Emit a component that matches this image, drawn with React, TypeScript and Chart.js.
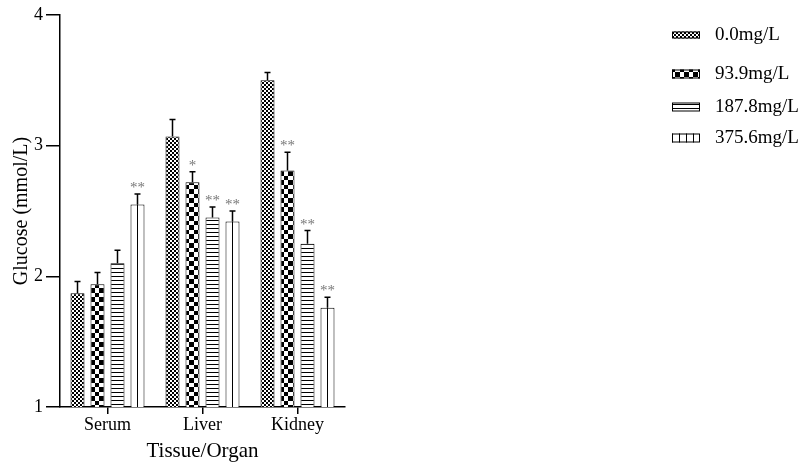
import React, { useEffect, useRef } from "react";
import { Chart, registerables } from "chart.js";

Chart.register(...registerables);

const categories = ["Serum", "Liver", "Kidney"];
const seriesNames = ["0.0mg/L", "93.9mg/L", "187.8mg/L", "375.6mg/L"];
const dose0 = [1.87, 3.07, 3.5];
const dose1 = [1.94, 2.72, 2.81];
const dose2 = [2.1, 2.45, 2.25];
const dose3 = [2.55, 2.42, 1.76];
const err0 = [0.09, 0.13, 0.06];
const err1 = [0.09, 0.08, 0.14];
const err2 = [0.1, 0.08, 0.1];
const err3 = [0.08, 0.08, 0.08];
const sig0 = ["", "", ""];
const sig1 = ["", "*", "**"];
const sig2 = ["", "**", "**"];
const sig3 = ["**", "**", "**"];
const yTicks = [1, 2, 3, 4];

const values = [dose0, dose1, dose2, dose3];
const errors = [err0, err1, err2, err3];
const sigs = [sig0, sig1, sig2, sig3];

function makePattern(kind: number): CanvasPattern | string {
  const c = document.createElement("canvas");
  let w = 4, h = 4;
  if (kind === 1) { w = 9; h = 9; }
  if (kind === 2) { w = 4; h = 4; }
  if (kind === 3) { w = 7; h = 4; }
  c.width = w; c.height = h;
  const g = c.getContext("2d")!;
  g.fillStyle = "#ffffff";
  g.fillRect(0, 0, w, h);
  g.fillStyle = "#000000";
  if (kind === 0) {
    g.fillRect(0, 0, 2, 2);
    g.fillRect(2, 2, 2, 2);
  } else if (kind === 1) {
    g.fillRect(0, 0, 5, 5);
    g.fillRect(5, 5, 4, 4);
  } else if (kind === 2) {
    g.fillRect(0, 0, w, 1);
  } else {
    g.fillRect(0, 0, 1, h);
  }
  const p = g.createPattern(c, "repeat");
  return p || "#888";
}

const SERIF = "'Liberation Serif', 'Times New Roman', serif";

export default function App() {
  const ref = useRef<HTMLCanvasElement>(null);
  useEffect(() => {
    const canvas = ref.current!;
    const patterns = [0, 1, 2, 3].map((k) => makePattern(k));

    const errorPlugin = {
      id: "errs",
      afterDatasetsDraw(chart: any) {
        const ctx = chart.ctx;
        const yScale = chart.scales.y;
        ctx.save();
        // center line for the vertical-stripe series
        const meta3 = chart.getDatasetMeta(3);
        meta3.data.forEach((bar: any) => {
          ctx.strokeStyle = "#000";
          ctx.lineWidth = 1;
          ctx.beginPath();
          const cx = Math.round(bar.x) + 0.5;
          ctx.moveTo(cx, chart.chartArea.bottom);
          ctx.lineTo(cx, bar.y);
          ctx.stroke();
        });
        for (let i = 0; i < values.length; i++) {
          const meta = chart.getDatasetMeta(i);
          meta.data.forEach((bar: any, j: number) => {
            const x = bar.x;
            const top = bar.y;
            const et = yScale.getPixelForValue(values[i][j] + errors[i][j]);
            ctx.strokeStyle = "#000";
            ctx.lineWidth = 1.5;
            ctx.beginPath();
            ctx.moveTo(x, top);
            ctx.lineTo(x, et);
            ctx.moveTo(x - 3, et);
            ctx.lineTo(x + 3, et);
            ctx.stroke();
            const s = sigs[i][j];
            if (s) {
              ctx.fillStyle = "#777";
              ctx.font = "15px " + SERIF;
              ctx.textAlign = "center";
              ctx.textBaseline = "alphabetic";
              ctx.fillText(s, x, et - 2);
            }
          });
        }
        ctx.restore();
      },
    };

    const legendYs = [35, 74, 107, 138];
    const legendHs = [7, 9, 9, 9];
    const legendPlugin = {
      id: "customLegend",
      afterDraw(chart: any) {
        const ctx = chart.ctx;
        ctx.save();
        for (let i = 0; i < seriesNames.length; i++) {
          const cy = legendYs[i];
          const h = legendHs[i];
          const x0 = 672, w = 28;
          ctx.fillStyle = patterns[i] as any;
          ctx.fillRect(x0, cy - h / 2, w, h);
          ctx.strokeStyle = "#000";
          ctx.lineWidth = 1;
          ctx.strokeRect(x0 + 0.5, cy - h / 2 + 0.5, w - 1, h - 1);
          ctx.fillStyle = "#000";
          ctx.font = "19px " + SERIF;
          ctx.textAlign = "left";
          ctx.textBaseline = "middle";
          ctx.fillText(seriesNames[i], 715, cy);
        }
        ctx.restore();
      },
    };

    const chart = new Chart(canvas, {
      type: "bar",
      data: {
        labels: categories,
        datasets: values.map((v, i) => ({
          label: seriesNames[i],
          data: v,
          backgroundColor: (i === 3 ? "#ffffff" : patterns[i]) as any,
          borderColor: "#000",
          borderWidth: 1,
          barPercentage: 0.7,
          categoryPercentage: 0.842,
        })),
      },
      options: {
        animation: false,
        responsive: true,
        maintainAspectRatio: false,
        layout: { padding: { left: 0, right: 458, top: 15, bottom: 0 } },
        plugins: { legend: { display: false }, tooltip: { enabled: false } },
        scales: {
          x: {
            afterFit: (s: any) => { s.height = 57; },
            grid: {
              offset: false,
              drawOnChartArea: false,
              drawTicks: true,
              tickLength: 7,
              color: "#000",
              lineWidth: 1.5,
            },
            border: { display: true, color: "#000", width: 1.5 },
            ticks: { color: "#000", font: { family: SERIF, size: 18 }, padding: 0 },
            title: {
              display: true,
              text: "Tissue/Organ",
              color: "#000",
              font: { family: SERIF, size: 21 },
              padding: { top: 0, bottom: 0 },
            },
          },
          y: {
            min: 1,
            max: 4,
            afterFit: (s: any) => { s.width = 60; },
            afterBuildTicks: (s: any) => { s.ticks = yTicks.map((v) => ({ value: v })); },
            grid: {
              drawOnChartArea: false,
              drawTicks: true,
              tickLength: 14,
              color: "#000",
              lineWidth: 1.5,
            },
            border: { display: true, color: "#000", width: 1.5 },
            ticks: { color: "#000", font: { family: SERIF, size: 18 }, padding: 3 },
            title: {
              display: true,
              text: "Glucose (mmol/L)",
              color: "#000",
              font: { family: SERIF, size: 20 },
              padding: { top: 10, bottom: 0 },
            },
          },
        },
      },
      plugins: [errorPlugin, legendPlugin],
    });
    return () => chart.destroy();
  }, []);

  return (
    <div style={{ position: "absolute", left: 0, top: 0, width: 803, height: 464, background: "#fff" }}>
      <canvas ref={ref} />
    </div>
  );
}
